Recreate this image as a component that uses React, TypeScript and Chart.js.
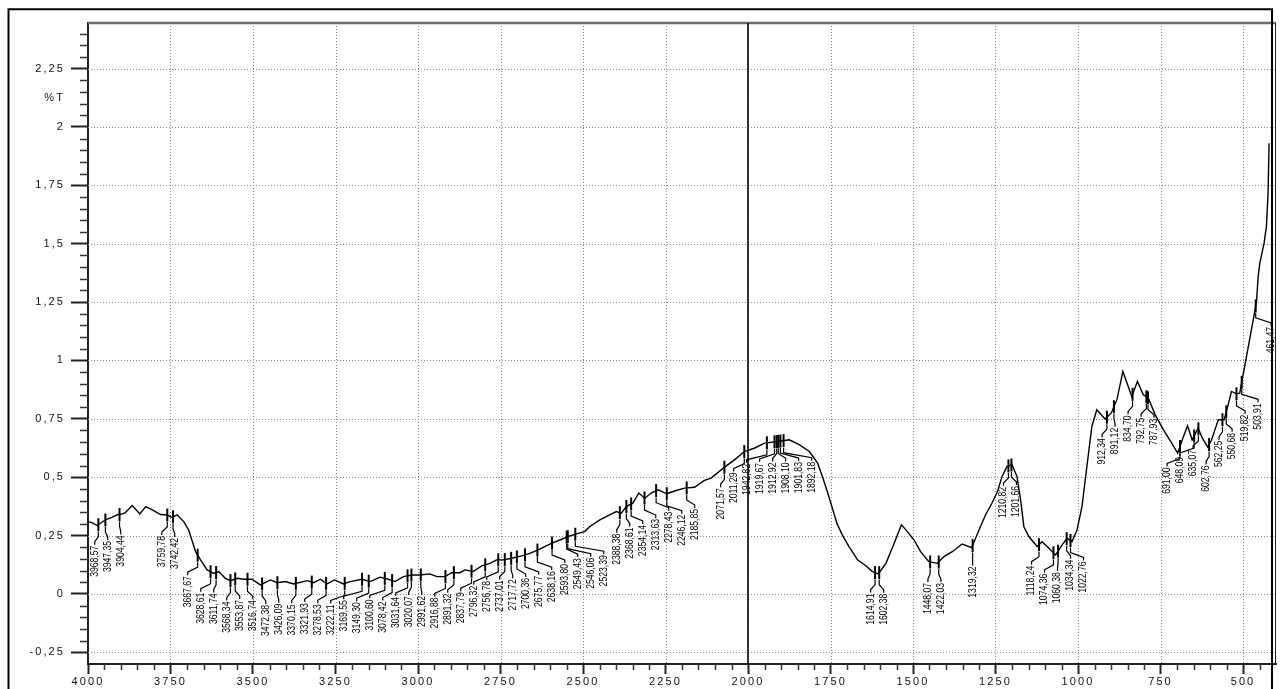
import React, { useEffect, useRef } from 'react';
import { Chart, registerables } from 'chart.js';

Chart.register(...registerables);

// ---- data ----
const wavenumbers = [
  4000, 3988, 3972, 3960, 3946, 3928, 3911, 3900, 3888, 3866, 3855, 3843, 3825, 3805, 3780, 3760, 3745, 3730,
  3710, 3695, 3674, 3659, 3639, 3619, 3604, 3584, 3568, 3548, 3528, 3503, 3478, 3447, 3427, 3402, 3377, 3336,
  3316, 3296, 3276, 3253, 3226, 3206, 3170, 3145, 3115, 3090, 3070, 3044, 3019, 2994, 2964, 2943, 2918, 2898,
  2873, 2858, 2833, 2807, 2782, 2762, 2742, 2716, 2686, 2661, 2636, 2596, 2570, 2545, 2520, 2495, 2480, 2449,
  2419, 2399, 2384, 2369, 2349, 2331, 2313, 2293, 2273, 2246, 2218, 2192, 2162, 2132, 2112, 2071, 2041, 2011,
  1981, 1950, 1910, 1875, 1845, 1814, 1789, 1775, 1760, 1745, 1730, 1715, 1694, 1668, 1643, 1623, 1605, 1582,
  1557, 1535, 1517, 1497, 1477, 1452, 1426, 1406, 1381, 1351, 1322, 1300, 1280, 1262, 1245, 1230, 1215, 1200,
  1185, 1174, 1164, 1149, 1124, 1109, 1088, 1068, 1048, 1033, 1018, 1003, 988, 973, 958, 943, 918, 899, 882,
  864, 837, 820, 802, 787, 766, 741, 716, 698, 684, 668, 654, 636, 623, 607, 595, 575, 557, 545, 535, 520, 510,
  495, 480, 469, 459, 454, 449, 436, 429, 424, 421,
];

const transmittance = [
  0.31, 0.305, 0.293, 0.305, 0.318, 0.328, 0.339, 0.341, 0.347, 0.379, 0.362, 0.343, 0.374, 0.36, 0.34, 0.338, 0.328, 0.339,
  0.31, 0.274, 0.181, 0.146, 0.103, 0.088, 0.096, 0.067, 0.057, 0.067, 0.063, 0.063, 0.039, 0.06, 0.048, 0.053, 0.043, 0.057,
  0.048, 0.063, 0.043, 0.06, 0.043, 0.053, 0.063, 0.053, 0.072, 0.063, 0.053, 0.074, 0.081, 0.081, 0.086, 0.074, 0.074, 0.091,
  0.091, 0.103, 0.096, 0.12, 0.131, 0.146, 0.146, 0.153, 0.163, 0.174, 0.189, 0.217, 0.231, 0.246, 0.257, 0.267, 0.288, 0.317,
  0.339, 0.353, 0.346, 0.374, 0.389, 0.432, 0.41, 0.432, 0.446, 0.429, 0.443, 0.453, 0.457, 0.486, 0.496, 0.543, 0.574, 0.61,
  0.624, 0.646, 0.653, 0.66, 0.639, 0.61, 0.56, 0.505, 0.44, 0.37, 0.3, 0.255, 0.203, 0.146, 0.121, 0.096, 0.086, 0.131,
  0.217, 0.296, 0.267, 0.231, 0.181, 0.138, 0.131, 0.16, 0.181, 0.214, 0.198, 0.274, 0.339, 0.385, 0.435, 0.503, 0.546, 0.553,
  0.503, 0.403, 0.288, 0.246, 0.203, 0.224, 0.196, 0.167, 0.21, 0.239, 0.224, 0.274, 0.374, 0.546, 0.717, 0.789, 0.749, 0.775, 0.832,
  0.953, 0.846, 0.91, 0.853, 0.839, 0.767, 0.703, 0.646, 0.603, 0.66, 0.72, 0.66, 0.71, 0.667, 0.629, 0.66, 0.746, 0.746, 0.81, 0.867, 0.857, 0.86,
  0.974, 1.089, 1.174, 1.253, 1.36, 1.417, 1.503, 1.574, 1.717, 1.93,
];

const peakWavenumbers = [
  3968.57, 3947.35, 3904.44, 3759.78, 3742.42, 3667.67, 3628.61, 3611.74, 3568.34, 3553.87, 3516.74, 3472.38,
  3426.09, 3370.15, 3321.93, 3278.53, 3222.11, 3169.55, 3149.3, 3100.6, 3078.42, 3031.64, 3020.07, 2991.62,
  2916.88, 2891.32, 2837.79, 2796.32, 2756.78, 2737.01, 2717.72, 2700.36, 2675.77, 2638.16, 2593.8, 2549.43,
  2546.06, 2523.39, 2388.38, 2368.61, 2354.14, 2313.63, 2278.43, 2246.12, 2185.85, 2071.57, 2011.29, 1942.82,
  1919.67, 1912.92, 1908.1, 1901.83, 1892.18, 1614.91, 1602.38, 1448.07, 1422.03, 1319.32, 1210.82, 1201.66,
  1118.24, 1074.36, 1060.38, 1034.34, 1022.76, 912.34, 891.12, 834.7, 792.75, 787.93, 691.0, 648.09, 635.07,
  602.76, 562.25, 550.68, 519.82, 503.91, 461.47,
];

const xTickValues = [4000, 3750, 3500, 3250, 3000, 2750, 2500, 2250, 2000, 1750, 1500, 1250, 1000, 750, 500];
const yTickValues = [-0.25, 0, 0.25, 0.5, 0.75, 1, 1.25, 1.5, 1.75, 2, 2.25];
const yAxisTitle = '%T';
const yAxisTitleValue = 2.125;
const markerWavenumber = 2000;
const xRange = { min: 400, max: 4000 };
const yRange = { min: -0.3, max: 2.445 };

const FONT_FAMILY = "'Liberation Sans', Arial, sans-serif";
const AXIS_FONT_SIZE = 11;
const AXIS_LETTER_SPACING = '2.1px';

const fmtComma = (v: number) => String(v).replace('.', ',');
const peakText = (v: number) => v.toFixed(2).replace('.', ',');

function curveValueAt(w: number): number {
  for (let i = 0; i < wavenumbers.length - 1; i++) {
    const a = wavenumbers[i];
    const b = wavenumbers[i + 1];
    if (w <= a && w >= b) {
      const t = (a - w) / (a - b);
      return transmittance[i] + t * (transmittance[i + 1] - transmittance[i]);
    }
  }
  return transmittance[transmittance.length - 1];
}

// spread label positions so that neighbours keep a minimum distance
function spreadLabels(desired: number[], gap: number): number[] {
  type Cl = { start: number; n: number; sum: number };
  const clusters: Cl[] = [];
  for (const d of desired) {
    clusters.push({ start: d, n: 1, sum: d });
    while (clusters.length > 1) {
      const b = clusters[clusters.length - 1];
      const a = clusters[clusters.length - 2];
      if (a.start + a.n * gap > b.start) {
        const n = a.n + b.n;
        const sum = a.sum + b.sum;
        const start = sum / n - ((n - 1) * gap) / 2;
        clusters.splice(clusters.length - 2, 2, { start, n, sum });
      } else break;
    }
  }
  const out: number[] = [];
  for (const c of clusters) for (let i = 0; i < c.n; i++) out.push(c.start + i * gap);
  return out;
}

const decorPlugin = {
  id: 'irDecor',
  beforeDraw(chart: any) {
    chart.ctx.letterSpacing = AXIS_LETTER_SPACING;
  },
  beforeDatasetsDraw(chart: any) {
    const { ctx, chartArea: a, scales } = chart;
    const x = scales.x;
    const y = scales.y;
    const line = (x1: number, y1: number, x2: number, y2: number) => {
      ctx.beginPath();
      ctx.moveTo(x1, y1);
      ctx.lineTo(x2, y2);
      ctx.stroke();
    };
    ctx.save();
    ctx.strokeStyle = '#8c8c8c';
    ctx.lineWidth = 1;
    ctx.setLineDash([1, 2]);
    for (const v of xTickValues) {
      if (v === xRange.max) continue;
      const px = Math.round(x.getPixelForValue(v)) + 0.5;
      line(px, a.top, px, a.bottom);
    }
    for (const v of yTickValues) {
      const py = Math.round(y.getPixelForValue(v)) + 0.5;
      line(a.left, py, a.right, py);
    }
    ctx.setLineDash([]);
    ctx.strokeStyle = '#6e6e6e';
    ctx.lineWidth = 2.5;
    line(a.left, a.top, a.right, a.top);
    ctx.strokeStyle = '#222';
    ctx.lineWidth = 1;
    line(a.right - 0.5, a.top, a.right - 0.5, a.bottom);
    const mx = x.getPixelForValue(markerWavenumber);
    ctx.strokeStyle = '#000';
    ctx.lineWidth = 1.6;
    line(mx, a.top, mx, a.bottom);
    ctx.restore();
  },
  afterDatasetsDraw(chart: any) {
    const { ctx, chartArea: a, scales } = chart;
    const x = scales.x;
    const y = scales.y;
    const line = (x1: number, y1: number, x2: number, y2: number) => {
      ctx.beginPath();
      ctx.moveTo(x1, y1);
      ctx.lineTo(x2, y2);
      ctx.stroke();
    };
    ctx.save();
    ctx.letterSpacing = '0px';
    // minor ticks
    ctx.strokeStyle = '#333';
    ctx.lineWidth = 1.5;
    for (let k = 9; k < 80; k++) {
      if (k % 5 === 0) continue;
      const px = Math.round(x.getPixelForValue(k * 50)) + 0.5;
      line(px, a.bottom, px, a.bottom + 6);
    }
    for (let k = -5; k <= 48; k++) {
      if (k % 5 === 0) continue;
      const py = Math.round(y.getPixelForValue(k * 0.05)) + 0.5;
      line(a.left - 8, py, a.left, py);
    }

    // peak marks and labels
    ctx.beginPath();
    ctx.rect(a.left, a.top, a.right - a.left, a.bottom - a.top);
    ctx.clip();
    const xs = peakWavenumbers.map((w) => x.getPixelForValue(w));
    const order = xs.map((_, i) => i).sort((i, j) => xs[i] - xs[j]);
    const placed = spreadLabels(order.map((i) => xs[i]), 13);
    ctx.strokeStyle = '#000';
    ctx.fillStyle = '#000';
    order.forEach((i, k) => {
      const w = peakWavenumbers[i];
      const px = xs[i];
      const cy = y.getPixelForValue(curveValueAt(w));
      const lx = placed[k];
      ctx.lineWidth = 2;
      line(px, cy - 6.5, px, cy + 6.5);
      ctx.lineWidth = 1.2;
      ctx.beginPath();
      ctx.moveTo(px, cy + 7);
      ctx.lineTo(px, cy + 12);
      ctx.lineTo(lx, cy + 17);
      ctx.lineTo(lx, cy + 20);
      ctx.stroke();
      ctx.save();
      ctx.translate(lx, cy + 21);
      ctx.rotate(-Math.PI / 2);
      ctx.scale(0.82, 1);
      ctx.font = `10.5px ${FONT_FAMILY}`;
      ctx.textAlign = 'right';
      ctx.textBaseline = 'middle';
      ctx.fillText(peakText(w), 0, 0);
      ctx.restore();
    });
    ctx.restore();
  },
  afterDraw(chart: any) {
    const { ctx, chartArea: a, scales } = chart;
    const y = scales.y;
    ctx.save();
    ctx.letterSpacing = AXIS_LETTER_SPACING;
    ctx.font = `${AXIS_FONT_SIZE}px ${FONT_FAMILY}`;
    ctx.fillStyle = '#111';
    ctx.textAlign = 'right';
    ctx.textBaseline = 'middle';
    ctx.fillText(yAxisTitle, a.left - 23, y.getPixelForValue(yAxisTitleValue));
    ctx.letterSpacing = '0px';
    // outer frame
    ctx.strokeStyle = '#000';
    ctx.lineWidth = 2;
    ctx.beginPath();
    ctx.moveTo(8.5, 700);
    ctx.lineTo(8.5, 9.3);
    ctx.lineTo(1272, 9.3);
    ctx.lineTo(1272, 700);
    ctx.stroke();
    ctx.restore();
  },
};

export default function App() {
  const ref = useRef<HTMLCanvasElement | null>(null);

  useEffect(() => {
    if (!ref.current) return;
    const chart = new Chart(ref.current, {
      type: 'line',
      data: {
        datasets: [
          {
            data: wavenumbers.map((w, i) => ({ x: w, y: transmittance[i] })),
            borderColor: '#000',
            borderWidth: 1.4,
            pointRadius: 0,
            fill: false,
            tension: 0,
          },
        ],
      },
      options: {
        animation: false,
        responsive: false,
        maintainAspectRatio: false,
        events: [],
        layout: { padding: { top: 23, right: 5, left: 0, bottom: 0 } },
        plugins: { legend: { display: false }, tooltip: { enabled: false } },
        scales: {
          x: {
            type: 'linear',
            reverse: true,
            min: xRange.min,
            max: xRange.max,
            afterBuildTicks: (s: any) => {
              s.ticks = xTickValues.map((value) => ({ value }));
            },
            afterFit: (s: any) => {
              s.height = 25;
            },
            grid: { drawOnChartArea: false, tickLength: 10, tickColor: '#222', tickWidth: 2 },
            border: { display: true, color: '#222', width: 2 },
            ticks: {
              autoSkip: false,
              maxRotation: 0,
              padding: 1,
              color: '#111',
              font: { family: FONT_FAMILY, size: AXIS_FONT_SIZE },
              callback: (v: any) => String(v),
            },
          },
          y: {
            type: 'linear',
            min: yRange.min,
            max: yRange.max,
            afterBuildTicks: (s: any) => {
              s.ticks = yTickValues.map((value) => ({ value }));
            },
            afterFit: (s: any) => {
              s.width = 88;
            },
            grid: { drawOnChartArea: false, tickLength: 17, tickColor: '#222', tickWidth: 2 },
            border: { display: true, color: '#222', width: 2 },
            ticks: {
              padding: 6,
              color: '#111',
              font: { family: FONT_FAMILY, size: AXIS_FONT_SIZE },
              callback: (v: any) => fmtComma(Number(v)),
            },
          },
        },
      },
      plugins: [decorPlugin],
    });
    return () => chart.destroy();
  }, []);

  return (
    <div style={{ position: 'fixed', left: 0, top: 0, width: 1281, height: 689, background: '#fff' }}>
      <canvas ref={ref} width={1281} height={689} style={{ display: 'block' }} />
    </div>
  );
}
